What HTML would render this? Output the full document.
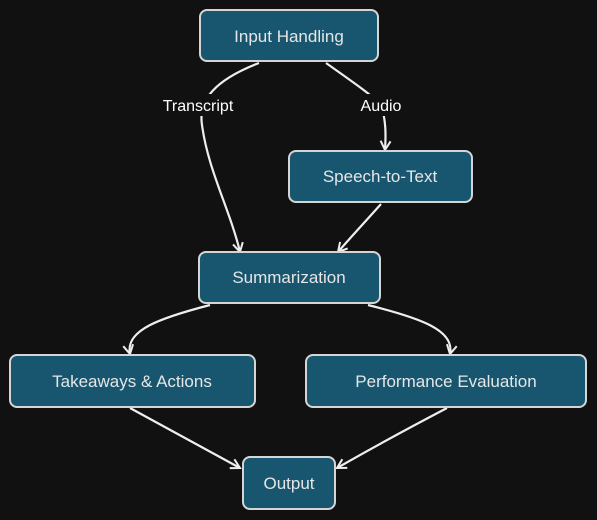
<!DOCTYPE html>
<html><head><meta charset="utf-8"><style>
html,body{margin:0;padding:0;background:#111111;}
svg{display:block}
text{font-family:"Liberation Sans",sans-serif;}
</style></head><body>
<svg width="597" height="520" viewBox="0 0 597 520" xmlns="http://www.w3.org/2000/svg">
<rect width="597" height="520" fill="#111111"/>
<defs>
<marker id="a" markerWidth="12" markerHeight="12" refX="10" refY="6" orient="auto" markerUnits="userSpaceOnUse">
<path d="M1,1 L10,6 L1,11" fill="none" stroke="#eee" stroke-width="2"/>
</marker>
</defs>
<g fill="none" stroke="#eeeeee" stroke-width="2.2" marker-end="url(#a)">
<path d="M259,63 C215,80 198,100 202,125 C208,170 230,210 240,252"/>
<path d="M326,63 C350,80 372,95 381,105 C386,120 386,135 385,150"/>
<path d="M381,204 C365,222 350,238 338,252"/>
<path d="M210,305 C160,318 125,330 130,354"/>
<path d="M368,305 C420,318 455,330 450,354"/>
<path d="M130,408 C170,430 210,452 240,468"/>
<path d="M447,408 C405,430 365,452 337,468"/>
</g>
<rect x="140" y="94" width="112" height="22" fill="#111"/>
<rect x="352" y="94" width="58" height="22" fill="#111"/>
<text x="198" y="111" fill="#fff" font-size="16" text-anchor="middle">Transcript</text>
<text x="381" y="111" fill="#fff" font-size="16" text-anchor="middle">Audio</text>
<g fill="#17566e" stroke="#d5d5d5" stroke-width="2">
<rect x="200" y="10" width="178" height="51" rx="7"/>
<rect x="289" y="151" width="183" height="51" rx="7"/>
<rect x="199" y="252" width="181" height="51" rx="7"/>
<rect x="10" y="355" width="245" height="52" rx="7"/>
<rect x="306" y="355" width="280" height="52" rx="7"/>
<rect x="243" y="457" width="92" height="52" rx="7"/>
</g>
<g fill="#e6e6e6" font-size="17" text-anchor="middle">
<text x="289" y="42">Input Handling</text>
<text x="380" y="182">Speech-to-Text</text>
<text x="289" y="283">Summarization</text>
<text x="132" y="387">Takeaways &amp; Actions</text>
<text x="446" y="387">Performance Evaluation</text>
<text x="289" y="489">Output</text>
</g>
</svg>
</body></html>
